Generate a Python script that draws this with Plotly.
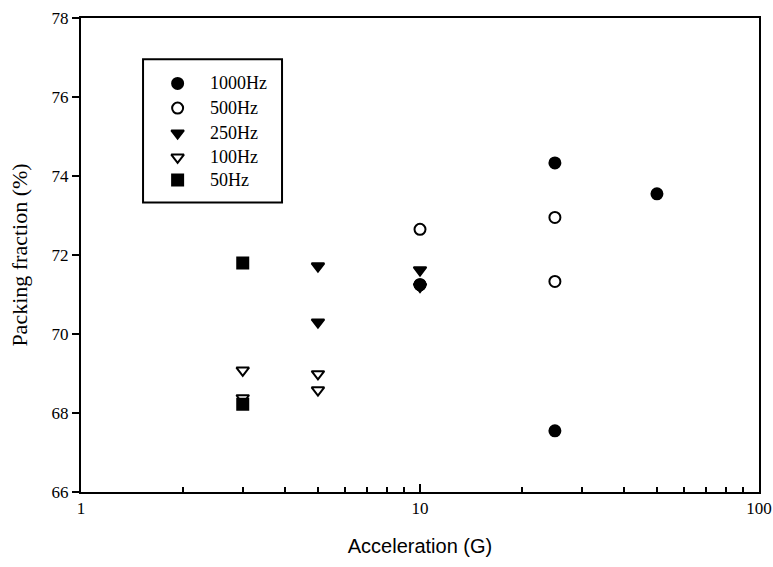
import plotly.graph_objects as go

# Data
x_1000 = [25, 50, 25, 10]
y_1000 = [74.33, 73.55, 67.55, 71.25]
x_500 = [25, 25, 10, 10]
y_500 = [72.95, 71.33, 72.65, 71.25]
x_250 = [5, 5, 10]
y_250 = [71.72, 70.30, 71.62]
x_100 = [3, 3, 5, 5, 10]
y_100 = [69.08, 68.38, 68.99, 68.58, 71.20]
x_50 = [3, 3]
y_50 = [71.80, 68.22]

names = ["1000Hz", "500Hz", "250Hz", "100Hz", "50Hz"]
xs_all = [x_1000, x_500, x_250, x_100, x_50]
ys_all = [y_1000, y_500, y_250, y_100, y_50]
symbols = ["circle", "circle-open", "triangle-down", "triangle-down-open", "square"]

serif = "Liberation Serif, Times New Roman, serif"

fig = go.Figure()
for name, xs, ys, sym in zip(names, xs_all, ys_all, symbols):
    fig.add_trace(go.Scatter(
        x=xs, y=ys, mode="markers", name=name, showlegend=False,
        marker=dict(symbol=sym, size=11, color="black",
                    line=dict(width=2, color="black")),
    ))

# Manual legend (in an overlay 0..1 coordinate system over the plot area)
leg_x_marker = 0.1425
leg_x_text = 0.188
leg_rows = [0.862, 0.810, 0.757, 0.706, 0.658]
for name, sym, ly in zip(names, symbols, leg_rows):
    fig.add_trace(go.Scatter(
        x=[leg_x_marker], y=[ly], mode="markers", showlegend=False,
        xaxis="x2", yaxis="y2", hoverinfo="skip",
        marker=dict(symbol=sym, size=11, color="black",
                    line=dict(width=2, color="black")),
    ))
    fig.add_annotation(x=leg_x_text, y=ly, xref="x2", yref="y2",
                       text=name, showarrow=False, xanchor="left", yanchor="middle",
                       font=dict(family=serif, size=18, color="black"))

fig.add_shape(type="rect", xref="x2", yref="y2",
              x0=0.0915, x1=0.2965, y0=0.611, y1=0.913,
              line=dict(color="black", width=2), fillcolor="rgba(0,0,0,0)")

fig.update_layout(
    width=773, height=567,
    margin=dict(l=81, r=14, t=18, b=75, autoexpand=False),
    paper_bgcolor="white", plot_bgcolor="white",
    font=dict(family=serif, size=17, color="black"),
    showlegend=False,
    xaxis=dict(
        type="log", range=[0, 2], automargin=False,
        tickvals=[1, 10, 100], ticktext=["1", "10", "100"],
        ticks="inside", ticklen=8, tickwidth=1.5, tickcolor="black",
        minor=dict(ticks="inside", ticklen=5, tickwidth=1.5, tickcolor="black",
                   tickvals=[2, 3, 4, 5, 6, 7, 8, 9, 20, 30, 40, 50, 60, 70, 80, 90]),
        showline=True, linecolor="black", linewidth=2, mirror=True,
        showgrid=False, zeroline=False,
        title=dict(text="Acceleration (G)", standoff=22,
                   font=dict(family="Liberation Sans Narrow, Liberation Sans, Arial", size=20)),
        tickfont=dict(family=serif, size=17),
    ),
    yaxis=dict(
        range=[66, 78], tickvals=[66, 68, 70, 72, 74, 76, 78], automargin=False,
        ticks="outside", ticklen=7, tickwidth=1.5, tickcolor="black",
        showline=True, linecolor="black", linewidth=2, mirror=True,
        showgrid=False, zeroline=False,
        title=dict(text="Packing fraction (%)", standoff=18,
                   font=dict(family=serif, size=22)),
        tickfont=dict(family=serif, size=17),
    ),
    xaxis2=dict(overlaying="x", range=[0, 1], visible=False, fixedrange=True),
    yaxis2=dict(overlaying="y", range=[0, 1], visible=False, fixedrange=True),
)

fig.write_html("out.html")
